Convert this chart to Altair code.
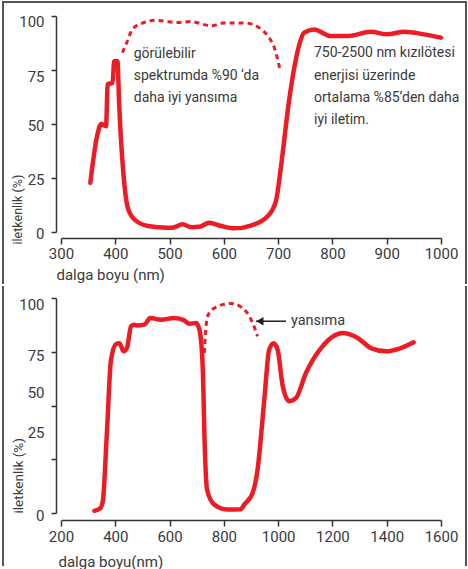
import altair as alt
import pandas as pd

FONT = "Roboto"
RED = "#ed1c24"
TXT = "#3a3a3a"
AX = "#333333"
FRAME = "#555555"

# ---------------- top panel data ----------------
top_solid_nm = [354, 367, 374, 383, 386, 395, 398, 404, 407, 414, 423, 435, 460, 496, 505, 524, 540,
                555, 573, 595, 619, 650, 681, 696, 705, 720, 736, 748, 766, 797, 828, 871, 901, 932, 969, 1000]
top_solid_pct = [22.8, 45, 50, 49, 68.5, 69, 79, 79, 60, 30, 11.3, 5.9, 2.8, 2.0, 2.0, 3.6, 2.2,
                 2.4, 4.3, 2.8, 1.7, 3.0, 7.4, 14.4, 29.8, 60.6, 83.8, 92.3, 93.8, 90.7, 90.7, 92.7, 91.5, 92.7, 91.5, 90]
top_dash_nm = [413, 420, 432, 453, 475, 515, 539, 564, 576, 600, 638, 665, 681, 693, 704]
top_dash_pct = [83, 87, 94, 97, 98, 97, 97.4, 96, 95.4, 96.8, 96.8, 94.6, 90.7, 85.3, 74.5]

top_left_text = ["görülebilir", "spektrumda %90 ‘da", "daha iyi yansıma"]
top_left_x = [434, 434, 434]
top_left_y = [82.4, 72.2, 62.0]
top_right_text = ["750-2500 nm kızılötesi", "enerjisi  üzerinde", "ortalama %85’den daha", "iyi iletim."]
top_right_x = [766, 766, 766, 766]
top_right_y = [82.9, 72.2, 62.0, 51.9]

top_x_ticks = [300, 400, 500, 600, 700, 800, 900, 1000]
y_ticks = [0, 25, 50, 75, 100]

# ---------------- bottom panel data ----------------
bot_solid_nm = [323, 345, 354, 369, 384, 403, 415, 431, 443, 458, 470, 482, 507, 529, 568, 617, 654, 673, 697,
                710, 722, 730, 738, 765, 814, 863, 875, 906, 924, 949, 967, 983, 998, 1017, 1041, 1066, 1102,
                1158, 1238, 1293, 1342, 1397, 1452, 1499]
bot_solid_pct = [1, 2.3, 5.4, 37, 71, 78.6, 79, 75.2, 76.7, 86.8, 87.6, 87.2, 87.6, 90.7, 89.9, 90.7, 89.6, 88, 88.4,
                 85.3, 68.2, 29.5, 10.8, 3.9, 1.6, 1.8, 3.9, 9.3, 20, 52.7, 76, 79, 76, 59, 52, 53.5, 65,
                 76.7, 83.7, 81.4, 76.7, 75.2, 76.7, 79.4]
bot_dash_nm = [728, 730, 740, 765, 826, 881, 906, 924]
bot_dash_pct = [74.4, 79, 91.5, 95.3, 97.5, 93.8, 88.4, 82.2]

arrow_tip_nm = [918]
arrow_tail_nm = [1029]
arrow_pct = [89.2]
arrow_label = ["yansıma"]
arrow_label_nm = [1047]

bot_x_ticks = [200, 400, 600, 800, 1000, 1200, 1400, 1600]

# ---------------- helpers ----------------
def x_enc(field, domain, ticks, title, title_x, title_y, offset, lpad):
    return alt.X(field, type="quantitative",
                 scale=alt.Scale(domain=domain, nice=False, zero=False),
                 axis=alt.Axis(values=ticks, format="d", labelOverlap=False, labelFlush=False,
                               offset=offset, tickSize=6, labelPadding=lpad,
                               title=title, titleAnchor="start", titleAlign="left",
                               titleBaseline="middle", titleX=title_x, titleY=title_y,
                               titleFontSize=15, titleFontWeight="normal", grid=False))


def y_enc(field, title_fs, title_x, title_y, label_offset):
    return alt.Y(field, type="quantitative",
                 scale=alt.Scale(domain=[0, 100], nice=False, zero=False),
                 axis=alt.Axis(values=y_ticks, format="d", labelOverlap=False, labelFlush=False,
                               offset=5, tickSize=5, labelPadding=7,
                               labelOffset=label_offset,
                               title="iletkenlik (%)", titleAngle=270, titleAlign="left",
                               titleBaseline="middle", titleX=title_x, titleY=title_y,
                               titleFontSize=title_fs, titleFontWeight="normal", grid=False))


one = pd.DataFrame({"k": [0]})

# ---------------- top panel ----------------
tx = lambda f: x_enc(f, [300, 1000], top_x_ticks, "dalga boyu (nm)", -5, 36, 6, 2)
top_lab_off = {"condition": [{"test": "datum.value == 100", "value": 5},
                             {"test": "datum.value == 75", "value": 6}], "value": 1}
ty = lambda f: y_enc(f, 12.5, -38.5, 228, top_lab_off)

t_solid = alt.Chart(pd.DataFrame({"nm": top_solid_nm, "pct": top_solid_pct})).mark_line(
    color=RED, strokeWidth=4.5, interpolate="monotone", strokeCap="round", strokeJoin="round"
).encode(x=tx("nm"), y=ty("pct"))

t_dash = alt.Chart(pd.DataFrame({"nm": top_dash_nm, "pct": top_dash_pct})).mark_line(
    color=RED, strokeWidth=3, interpolate="monotone", strokeDash=[5, 4]
).encode(x=tx("nm"), y=ty("pct"))

t_txt1 = alt.Chart(pd.DataFrame({"nm": top_left_x, "pct": top_left_y, "t": top_left_text})).mark_text(
    align="left", baseline="middle", font=FONT, fontSize=14, color=TXT
).encode(x=tx("nm"), y=ty("pct"), text="t:N")

t_txt2 = alt.Chart(pd.DataFrame({"nm": top_right_x, "pct": top_right_y, "t": top_right_text})).mark_text(
    align="left", baseline="middle", font=FONT, fontSize=14, color=TXT
).encode(x=tx("nm"), y=ty("pct"), text="t:N")

fr_kw = dict(color=FRAME, strokeWidth=2)
t_f1 = alt.Chart(one).mark_rule(**fr_kw).encode(x=alt.value(-58), y=alt.value(-15), y2=alt.value(268))
t_f2 = alt.Chart(one).mark_rule(**fr_kw).encode(x=alt.value(405), y=alt.value(-15), y2=alt.value(268))
t_f3 = alt.Chart(one).mark_rule(**fr_kw).encode(x=alt.value(-59), x2=alt.value(406), y=alt.value(-14))

top = alt.layer(t_solid, t_dash, t_txt1, t_txt2, t_f1, t_f2, t_f3).properties(width=380, height=216)

# ---------------- bottom panel ----------------
bx = lambda f: x_enc(f, [200, 1600], bot_x_ticks, "dalga boyu(nm)", -3, 41, 7, 3)
bot_lab_off = {"condition": [{"test": "datum.value == 100", "value": 6},
                             {"test": "datum.value == 75", "value": 4},
                             {"test": "datum.value == 50", "value": -13},
                             {"test": "datum.value == 25", "value": -27}], "value": 2}
by = lambda f: y_enc(f, 13.5, -37.5, 215, bot_lab_off)

b_solid = alt.Chart(pd.DataFrame({"nm": bot_solid_nm, "pct": bot_solid_pct})).mark_line(
    color=RED, strokeWidth=4.5, interpolate="monotone", strokeCap="round", strokeJoin="round"
).encode(x=bx("nm"), y=by("pct"))

b_dash = alt.Chart(pd.DataFrame({"nm": bot_dash_nm, "pct": bot_dash_pct})).mark_line(
    color=RED, strokeWidth=3, interpolate="monotone", strokeDash=[5, 4]
).encode(x=bx("nm"), y=by("pct"))

arrow_df = pd.DataFrame({"nm": arrow_tip_nm, "nm2": arrow_tail_nm, "pct": arrow_pct,
                         "lx": arrow_label_nm, "t": arrow_label})
b_arrow = alt.Chart(arrow_df).mark_rule(color="#222222", strokeWidth=1.5).encode(
    x=bx("nm"), x2="nm2:Q", y=by("pct"))
b_head = alt.Chart(arrow_df).mark_point(shape="triangle-left", filled=True, size=70, color="#222222",
                                        opacity=1, xOffset=4).encode(x=bx("nm"), y=by("pct"))
b_lab = alt.Chart(arrow_df).mark_text(align="left", baseline="middle", font=FONT, fontSize=14.5,
                                      color=TXT).encode(x=bx("lx"), y=by("pct"), text="t:N")

b_f1 = alt.Chart(one).mark_rule(**fr_kw).encode(x=alt.value(-58), y=alt.value(-12), y2=alt.value(268))
b_f2 = alt.Chart(one).mark_rule(**fr_kw).encode(x=alt.value(405), y=alt.value(-12), y2=alt.value(268))

bottom = alt.layer(b_solid, b_dash, b_arrow, b_head, b_lab, b_f1, b_f2).properties(width=380, height=215)

chart = alt.vconcat(top, bottom, spacing=0).properties(
    padding={"left": 1, "top": 0, "right": 0, "bottom": 0}
).configure_view(stroke=None).configure_axis(
    labelFont=FONT, titleFont=FONT, labelFontSize=15, labelColor=TXT, titleColor=TXT,
    domainColor=AX, tickColor=AX, domainWidth=1.5, tickWidth=1.5
)

chart.save("out.html", embed_options={"renderer": "svg", "actions": False})
